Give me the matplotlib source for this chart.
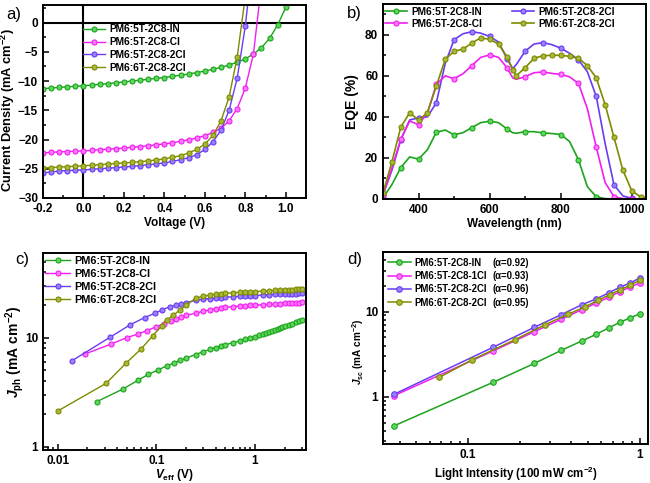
import matplotlib
matplotlib.use("Agg")
import matplotlib.pyplot as plt
from matplotlib.ticker import MultipleLocator, LogLocator, FuncFormatter, NullFormatter

plt.rcParams['font.family'] = ['Liberation Sans', 'DejaVu Sans']
plt.rcParams['font.weight'] = 'bold'
plt.rcParams['axes.labelweight'] = 'bold'
plt.rcParams['mathtext.fontset'] = 'custom'
plt.rcParams['mathtext.rm'] = 'Liberation Sans:bold'
plt.rcParams['mathtext.it'] = 'Liberation Sans:italic:bold'
plt.rcParams['mathtext.bf'] = 'Liberation Sans:bold'
plt.rcParams['mathtext.bfit'] = 'Liberation Sans:italic:bold'

# ---------------- data ----------------
names_a = ['PM6:5T-2C8-IN', 'PM6:5T-2C8-Cl', 'PM6:5T-2C8-2Cl', 'PM6:6T-2C8-2Cl']
names_d = ['PM6:5T-2C8-IN', 'PM6:5T-2C8-1Cl', 'PM6:5T-2C8-2Cl', 'PM6:6T-2C8-2Cl']
alphas = ['(\u03b1=0.92)', '(\u03b1=0.93)', '(\u03b1=0.96)', '(\u03b1=0.95)']

# a) J-V
V = [-0.2, -0.16, -0.12, -0.08, -0.04, 0.0, 0.04, 0.08, 0.12, 0.16, 0.2, 0.24, 0.28,
     0.32, 0.36, 0.4, 0.44, 0.48, 0.52, 0.56, 0.6, 0.64, 0.68, 0.72, 0.76, 0.8, 0.84,
     0.88, 0.92, 0.96, 1.0]
J_IN = [-11.3, -11.2, -11.1, -11.0, -10.9, -10.8, -10.7, -10.55, -10.45, -10.3, -10.15,
        -10.0, -9.85, -9.7, -9.55, -9.4, -9.2, -9.0, -8.8, -8.55, -8.3, -8.0, -7.65,
        -7.25, -6.8, -6.2, -5.4, -4.3, -2.7, -0.4, 2.6]
J_Cl = [-22.3, -22.2, -22.1, -22.05, -22.0, -21.95, -21.85, -21.75, -21.65, -21.55,
        -21.45, -21.35, -21.2, -21.05, -20.9, -20.75, -20.55, -20.3, -20.05, -19.75,
        -19.35, -18.8, -18.1, -16.8, -14.7, -11.2, -5.4, 6.5]
J_2Cl = [-25.7, -25.55, -25.4, -25.3, -25.25, -25.2, -25.1, -25.0, -24.9, -24.8, -24.7,
         -24.6, -24.45, -24.3, -24.15, -24.0, -23.75, -23.45, -23.1, -22.6, -21.7, -20.4,
         -18.4, -15.0, -9.5, -0.6, 12.0]
J_6T = [-24.9, -24.8, -24.7, -24.65, -24.55, -24.5, -24.4, -24.3, -24.2, -24.1, -24.0,
        -23.9, -23.8, -23.65, -23.5, -23.3, -23.05, -22.75, -22.3, -21.7, -20.8, -19.3,
        -16.8, -12.7, -5.9, 4.5]

# b) EQE
wl = [300, 325, 350, 375, 400, 425, 450, 475, 500, 525, 550, 575, 600, 625, 650, 665,
      675, 700, 725, 750, 775, 800, 825, 850, 875, 900, 925, 950, 975, 1000, 1025, 1040]
eqe_IN = [0.5, 7, 15.3, 20.5, 19.4, 24, 32.5, 33.6, 31.3, 32.3, 34.8, 37.2, 37.9, 37.2,
          34, 32.3, 32, 32.8, 32.8, 32.2, 31.9, 31.4, 28, 19.1, 6, 1.1, 0.2, 0, 0, 0, 0, 0]
eqe_Cl = [2, 15, 29, 38, 36.2, 42, 55.8, 60, 58.6, 61, 65, 69, 70.2, 69, 63.7, 59, 58.3,
          59.6, 61.5, 61.9, 61.2, 60.7, 59.5, 56.3, 44, 25.3, 8, 1.1, 0.2, 0, 0, 0]
eqe_2Cl = [2, 14, 28.9, 38.5, 39.5, 40, 46.9, 66, 77.6, 80.5, 81.5, 80.8, 79.2, 76.5, 68,
           63.5, 65.5, 72, 75.5, 76.2, 75.2, 73.5, 71, 67.8, 62, 50, 27, 6.9, 1.5, 0.3, 0, 0]
eqe_6T = [3, 18, 35, 42, 38.5, 42, 55, 68, 72, 73, 76, 78.5, 77.8, 75.5, 69, 63, 60, 64,
          68.5, 69.8, 70, 70, 69.5, 68.5, 65, 59, 46, 30, 14, 4, 1, 0.3]

# c) Jph - Veff
veff_IN = [0.025, 0.046, 0.065, 0.083, 0.104, 0.127, 0.15, 0.175, 0.2, 0.25, 0.3, 0.35,
           0.4, 0.45, 0.5, 0.6, 0.7, 0.8, 0.9, 1.0, 1.1, 1.2, 1.3, 1.4, 1.5, 1.6, 1.7,
           1.8, 1.9, 2.0, 2.2, 2.4, 2.6, 2.8, 3.0]
jph_IN = [2.59, 3.38, 4.06, 4.6, 5.05, 5.5, 5.85, 6.2, 6.5, 7.0, 7.45, 7.8, 8.1, 8.4,
          8.6, 9.0, 9.35, 9.65, 9.9, 10.2, 10.5, 10.8, 11.0, 11.3, 11.5, 11.8, 12.0,
          12.3, 12.5, 12.7, 13.1, 13.5, 13.8, 14.1, 14.4]
veff_Cl = [0.019, 0.035, 0.05, 0.065, 0.08, 0.1, 0.12, 0.14, 0.16, 0.18, 0.2, 0.25, 0.3,
           0.35, 0.4, 0.45, 0.5, 0.6, 0.7, 0.8, 0.9, 1.0, 1.2, 1.4, 1.6, 1.8, 2.0, 2.2,
           2.4, 2.6, 2.8, 3.0]
jph_Cl = [7.1, 8.75, 10.0, 10.8, 11.6, 12.6, 13.5, 14.3, 14.9, 15.4, 16.0, 16.8, 17.5,
          18.0, 18.5, 18.8, 19.0, 19.3, 19.5, 19.7, 19.8, 19.9, 20.1, 20.3, 20.4, 20.6,
          20.7, 20.8, 20.9, 21.0, 21.05, 21.1]
veff_2Cl = [0.014, 0.034, 0.054, 0.076, 0.096, 0.113, 0.137, 0.16, 0.18, 0.2, 0.25, 0.3,
            0.35, 0.4, 0.45, 0.5, 0.6, 0.7, 0.8, 0.9, 1.0, 1.2, 1.4, 1.6, 1.8, 2.0, 2.2,
            2.4, 2.6, 2.8, 3.0]
jph_2Cl = [6.15, 10.1, 13.1, 15.3, 16.7, 17.9, 19.3, 19.9, 20.4, 21.0, 22.0, 22.6, 22.9,
           23.1, 23.3, 23.5, 23.8, 24.0, 24.2, 24.3, 24.4, 24.7, 24.9, 25.0, 25.1, 25.2,
           25.3, 25.4, 25.4, 25.5, 25.5]
veff_6T = [0.01, 0.031, 0.049, 0.07, 0.092, 0.113, 0.127, 0.149, 0.173, 0.2, 0.25, 0.3,
           0.35, 0.4, 0.45, 0.5, 0.6, 0.7, 0.8, 0.9, 1.0, 1.2, 1.4, 1.6, 1.8, 2.0, 2.2,
           2.4, 2.6, 2.8, 3.0]
jph_6T = [2.12, 3.81, 5.8, 7.87, 10.4, 12.8, 14.5, 16.1, 17.9, 19.8, 23.0, 24.1, 24.6,
          25.1, 25.4, 25.6, 25.9, 26.1, 26.3, 26.4, 26.5, 26.8, 27.0, 27.2, 27.3, 27.4,
          27.6, 27.7, 27.8, 27.9, 28.0]

# d) Jsc - light intensity
P = [0.037, 0.14, 0.244, 0.35, 0.46, 0.56, 0.665, 0.77, 0.88, 1.0]
jsc_IN = [0.456, 1.48, 2.47, 3.51, 4.52, 5.42, 6.48, 7.5, 8.43, 9.4]
jsc_Cl = [1.03, 3.45, 5.82, 8.14, 10.5, 12.6, 14.8, 17.2, 19.4, 21.6]
jsc_2Cl = [1.07, 3.81, 6.55, 9.22, 12.0, 14.1, 16.7, 19.4, 21.6, 24.7]
P_6T = [0.068, 0.105, 0.187, 0.28, 0.383, 0.478, 0.57, 0.67, 0.77, 0.88, 1.0]
jsc_6T = [1.69, 2.70, 4.65, 6.98, 9.3, 11.3, 13.5, 15.8, 18.0, 20.4, 23.2]

colors = ['#1CA31C', '#F01EF0', '#6A3CF2', '#7F8A00']
faces = ['#5ED65E', '#FF7AFF', '#9A80FF', '#A8B83A']

# ---------------- figure ----------------
fig = plt.figure(figsize=(6.5, 4.83), dpi=100)
W, H = 650.0, 483.0
def add_ax(l, r, t, b):
    return fig.add_axes([l / W, 1 - b / H, (r - l) / W, (b - t) / H])

axa = add_ax(43, 306, 5, 198)
axb = add_ax(383, 646, 4, 199)
axc = add_ax(43, 306, 253, 450)
axd = add_ax(383, 648, 252, 444)

def style(ax):
    for s in ax.spines.values():
        s.set_linewidth(1.4)
    ax.tick_params(which='both', direction='in', top=False, right=False,
                   labelsize=8.5, width=1.1)
    ax.tick_params(which='major', length=4)
    ax.tick_params(which='minor', length=2.2)
    for lab in ax.get_xticklabels() + ax.get_yticklabels():
        lab.set_fontweight('bold')

mk = dict(marker='o', markeredgewidth=0.8)

# a)
ax = axa
for Vv, Jj, c, f, n in zip([V, V, V, V], [J_IN, J_Cl, J_2Cl, J_6T], colors, faces, names_a):
    ax.plot(Vv[:len(Jj)], Jj, color=c, lw=1.0, ms=3.6, mfc=f, mec=c, label=n, **mk)
ax.axhline(0, color='black', lw=1.5, zorder=0)
ax.axvline(0, color='black', lw=1.5, zorder=0)
ax.set_xlim(-0.2, 1.1)
ax.set_ylim(-30, 3)
ax.xaxis.set_major_locator(MultipleLocator(0.2))
ax.xaxis.set_minor_locator(MultipleLocator(0.1))
ax.yaxis.set_major_locator(MultipleLocator(5))
ax.yaxis.set_minor_locator(MultipleLocator(2.5))
ax.xaxis.set_major_formatter(FuncFormatter(lambda v, p: '%.1f' % v))
ax.set_xlabel('Voltage (V)', fontsize=8.5)
ax.set_ylabel(r'Current Density (mA cm$^{-2}$)', fontsize=9.3)
ax.xaxis.set_label_coords(0.5, -0.098)
ax.yaxis.set_label_coords(-0.1, 0.455)
ax.legend(loc='upper left', bbox_to_anchor=(0.152, 0.9), frameon=False,
          prop={'size': 7.3, 'weight': 'bold'}, handlelength=2.2, handletextpad=0.4,
          labelspacing=0.28, borderpad=0, borderaxespad=0)
style(ax)

# b)
ax = axb
mark50 = [i for i, w in enumerate(wl) if w % 50 == 0]
for y, c, f, n, me in zip([eqe_IN, eqe_2Cl, eqe_Cl, eqe_6T],
                          [colors[0], colors[2], colors[1], colors[3]],
                          [faces[0], faces[2], faces[1], faces[3]],
                          [names_a[0], names_a[2], names_a[1], names_a[3]],
                          [mark50, mark50, mark50, None]):
    ax.plot(wl, y, color=c, lw=1.2, ms=3.6, mfc=f, mec=c, label=n, markevery=me, **mk)
ax.set_xlim(300, 1040)
ax.set_ylim(0, 95)
ax.xaxis.set_major_locator(MultipleLocator(200))
ax.xaxis.set_minor_locator(MultipleLocator(100))
ax.yaxis.set_major_locator(MultipleLocator(20))
ax.yaxis.set_minor_locator(MultipleLocator(10))
ax.set_xlabel('Wavelength (nm)', fontsize=8.5)
ax.set_ylabel('EQE (%)', fontsize=10)
ax.xaxis.set_label_coords(0.5, -0.097)
ax.yaxis.set_label_coords(-0.09, 0.5)
h, l = ax.get_legend_handles_labels()
ax.legend([h[0], h[2], h[1], h[3]], [l[0], l[2], l[1], l[3]], ncol=2,
          loc='upper left', bbox_to_anchor=(0.008, 0.985), frameon=False,
          prop={'size': 7.3, 'weight': 'bold'}, handlelength=2.2, handletextpad=0.4,
          labelspacing=0.18, columnspacing=2.9, borderpad=0, borderaxespad=0)
style(ax)

logfmt = FuncFormatter(lambda v, p: '%g' % v)

# c)
ax = axc
for x, y, c, f, n in zip([veff_IN, veff_Cl, veff_2Cl, veff_6T],
                         [jph_IN, jph_Cl, jph_2Cl, jph_6T], colors, faces, names_a):
    ax.plot(x, y, color=c, lw=1.0, ms=3.6, mfc=f, mec=c, label=n, **mk)
ax.set_xscale('log')
ax.set_yscale('log')
ax.set_xlim(0.0071, 3.3)
ax.set_ylim(0.93, 60)
ax.xaxis.set_major_locator(LogLocator(base=10, numticks=10))
ax.yaxis.set_major_locator(LogLocator(base=10, numticks=10))
ax.xaxis.set_major_formatter(logfmt)
ax.yaxis.set_major_formatter(logfmt)
ax.xaxis.set_minor_formatter(NullFormatter())
ax.yaxis.set_minor_formatter(NullFormatter())
ax.set_xlabel(r'$\mathbfit{V}_{\mathbf{eff}}$ (V)', fontsize=8.5)
ax.set_ylabel(r'$\mathbfit{J}_{\mathbf{ph}}$ (mA cm$^{-2}$)', fontsize=10)
ax.xaxis.set_label_coords(0.5, -0.085)
ax.yaxis.set_label_coords(-0.064, 0.5)
ax.legend(loc='upper left', bbox_to_anchor=(0.008, 0.985), frameon=False,
          prop={'size': 7.8, 'weight': 'bold'}, handlelength=2.3, handletextpad=0.4,
          labelspacing=0.28, borderpad=0, borderaxespad=0)
style(ax)

# d)
ax = axd
for x, y, c, f, n in zip([P, P, P, P_6T], [jsc_IN, jsc_Cl, jsc_2Cl, jsc_6T],
                         colors, faces, names_d):
    ax.plot(x, y, color=c, lw=1.1, ms=4.0, mfc=f, mec=c, label=n, **mk)
ax.set_xscale('log')
ax.set_yscale('log')
ax.set_xlim(0.032, 1.12)
ax.set_ylim(0.28, 50)
ax.xaxis.set_major_locator(LogLocator(base=10, numticks=10))
ax.yaxis.set_major_locator(LogLocator(base=10, numticks=10))
ax.xaxis.set_major_formatter(logfmt)
ax.yaxis.set_major_formatter(logfmt)
ax.xaxis.set_minor_formatter(NullFormatter())
ax.yaxis.set_minor_formatter(NullFormatter())
ax.set_xlabel(r'Light Intensity (100 mW cm$^{-2}$)', fontsize=8.3)
ax.set_ylabel(r'$\mathbfit{J}_{\mathbf{sc}}$ (mA cm$^{-2}$)', fontsize=7.2)
ax.xaxis.set_label_coords(0.5, -0.108)
ax.yaxis.set_label_coords(-0.066, 0.48)
leg = ax.legend(loc='upper left', bbox_to_anchor=(0.018, 0.97), frameon=False,
                prop={'size': 6.9, 'weight': 'bold'}, handlelength=2.4, handletextpad=0.4,
                labelspacing=0.35, borderpad=0, borderaxespad=0)
style(ax)
fig.canvas.draw()
inv = ax.transAxes.inverted()
for t, a in zip(leg.get_texts(), alphas):
    bb = t.get_window_extent()
    yc = inv.transform(((bb.x0 + bb.x1) / 2, (bb.y0 + bb.y1) / 2))[1]
    ax.text(0.414, yc, a, transform=ax.transAxes, fontsize=6.9, fontweight='bold',
            va='center', ha='left')

# panel labels
for s, x, y in [('a)', 6, 7), ('b)', 347, 6), ('c)', 15, 252), ('d)', 347, 252)]:
    fig.text(x / W, 1 - y / H, s, fontsize=12, fontweight='normal', va='top', ha='left')

fig.savefig('out.png', dpi=100)
